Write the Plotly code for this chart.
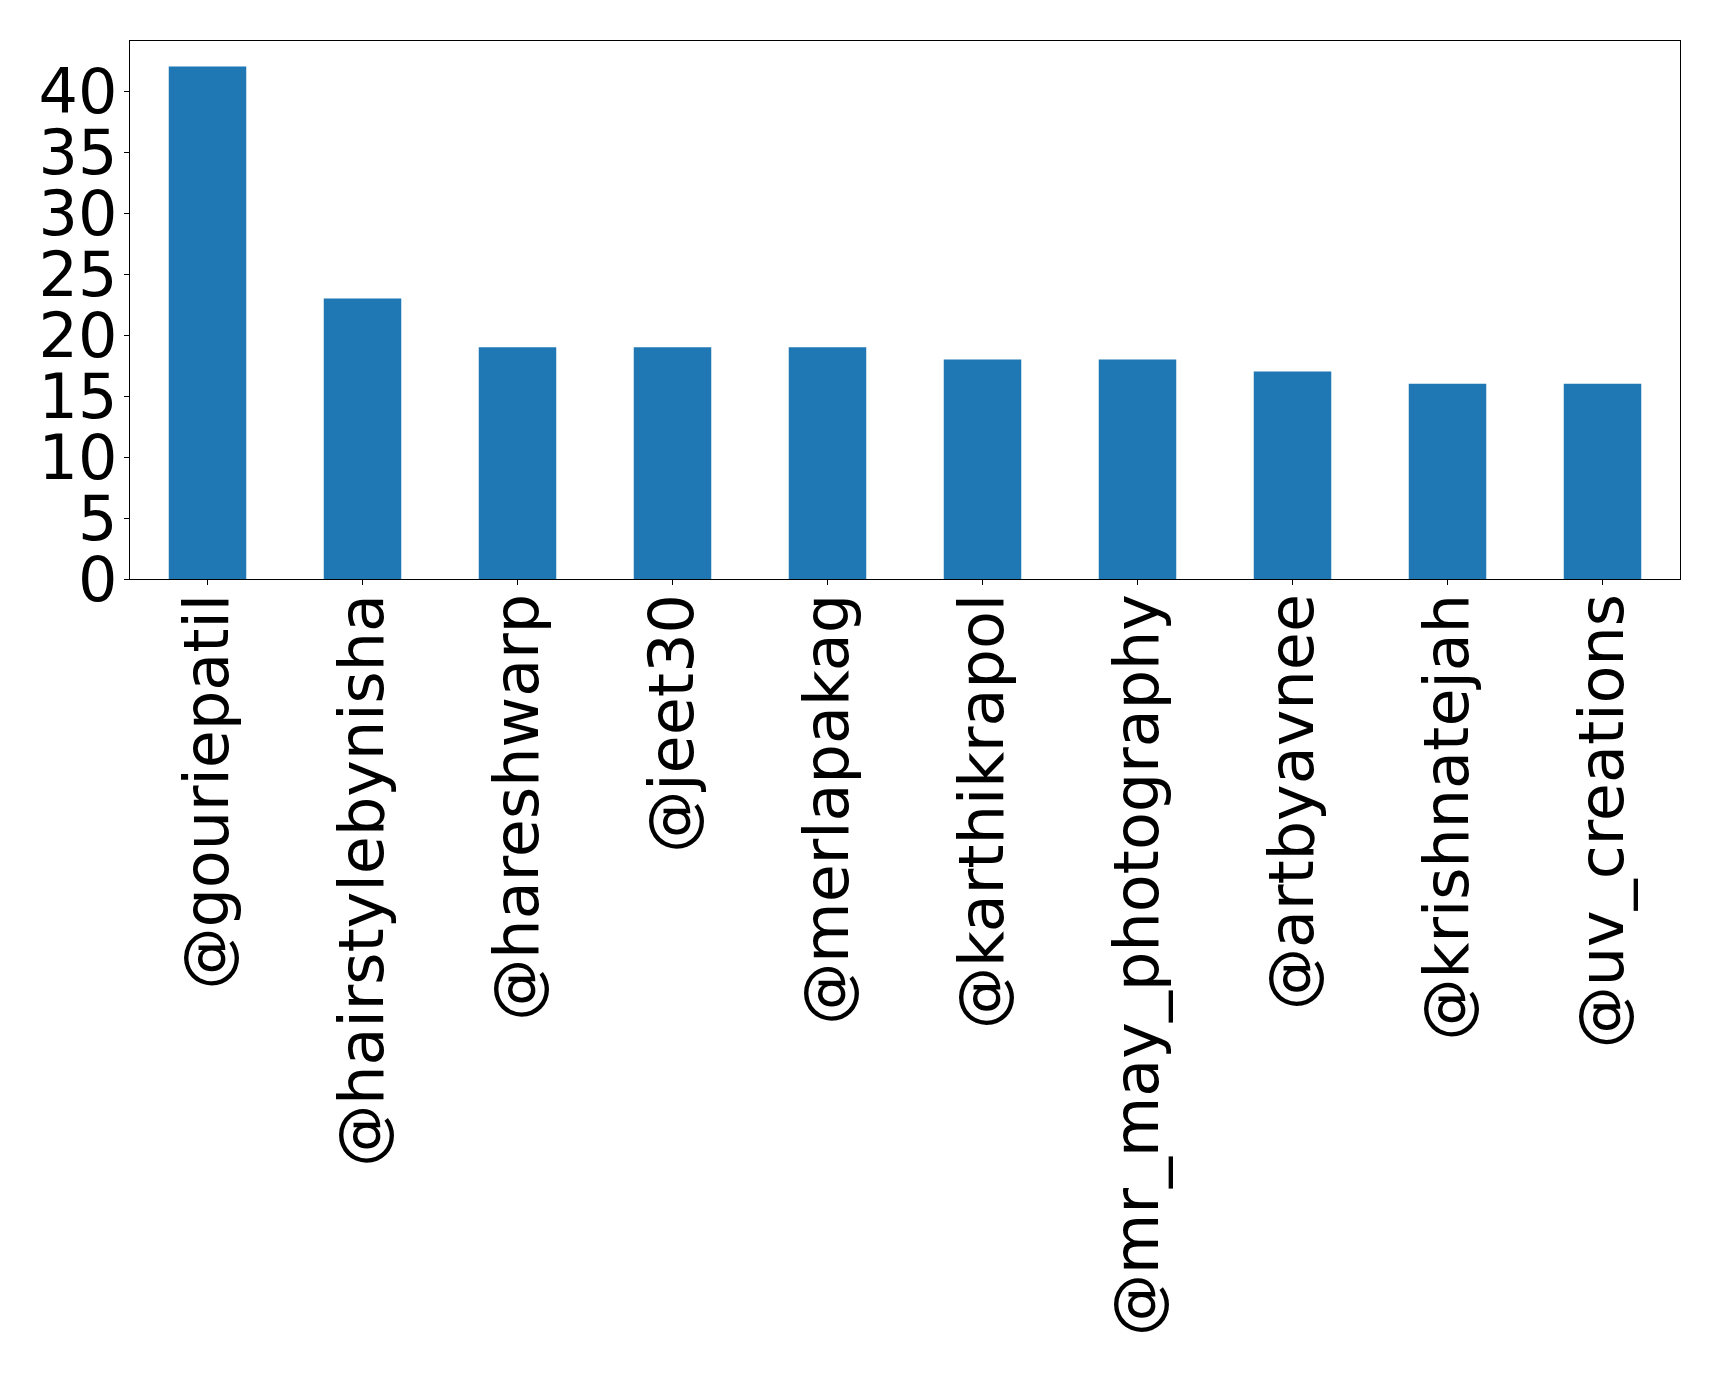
import plotly.graph_objects as go

categories = ["@gouriepatil", "@hairstylebynisha", "@hareshwarp", "@jeet30", "@merlapakag",
              "@karthikrapol", "@mr_may_photography", "@artbyavnee", "@krishnatejah", "@uv_creations"]
values = [42, 23, 19, 19, 19, 18, 18, 17, 16, 16]
yticks = [0, 5, 10, 15, 20, 25, 30, 35, 40]

fig = go.Figure(go.Bar(x=categories, y=values, marker_color="#1f77b4", width=0.5,
                       marker_line_width=0))
# page body has an 8px default margin; plot area targeted at x 129.5..1679.7, y 40.5..579
OFF = 8
W, H = 1700, 1360
fig.update_layout(
    width=W, height=H,
    margin=dict(l=129.5 - OFF, r=W - (1679.7 - OFF), t=40.5 - OFF, b=H - (579 - OFF), autoexpand=False),
    plot_bgcolor="white", paper_bgcolor="white",
    font=dict(family="DejaVu Sans", size=62, color="black"),
    showlegend=False,
    bargap=0.5,
)
fig.update_xaxes(range=[-0.5, 9.5], tickangle=-90, showline=True, mirror=True,
                 linecolor="black", linewidth=1.3, ticks="outside", ticklen=5,
                 tickcolor="black", showgrid=False, ticklabelstandoff=-16)
fig.update_yaxes(range=[0, 44.1], tickvals=yticks, showline=True, mirror=True,
                 linecolor="black", linewidth=1.3, ticks="outside", ticklen=5,
                 tickcolor="black", showgrid=False, zeroline=False, ticklabelstandoff=-6)
fig.write_html("out.html")
